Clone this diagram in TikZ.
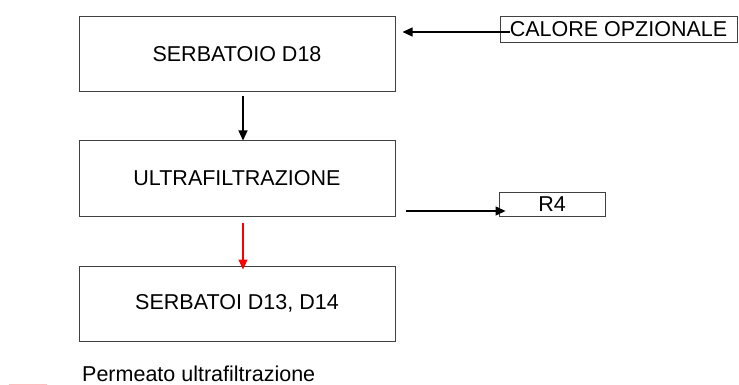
\documentclass[tikz,border=0pt]{standalone}
\usepackage{fontspec}
\setmainfont{Liberation Sans}
\usetikzlibrary{arrows.meta}

\begin{document}
\begin{tikzpicture}[
        x=1pt, y=-1pt,
        font=\fontsize{21.5}{25}\selectfont,
        unit/.style={draw=black!75, line width=1pt, minimum width=316pt, minimum height=75pt, inner sep=0pt},
        tag/.style={draw=black!75, line width=0.9pt, inner sep=0pt},
        flow/.style={-{Triangle[length=10pt,width=9pt]}, line width=1.2pt, black},
        permeate/.style={-{Triangle[length=10pt,width=9pt]}, line width=1.2pt, red}
    ]
        \useasboundingbox (0,0) rectangle (739,385);

        % Process units
        \node[unit] (d18) at (237, 54) {SERBATOIO D18};
        \node[unit] (uf) at (237, 178.5) {ULTRAFILTRAZIONE};
        \node[unit] (d13) at (237, 303.5) {SERBATOI D13, D14};

        % Side inputs and outputs
        \node[tag, minimum width=237pt, minimum height=26pt] (heat) at (618.5, 29) {CALORE OPZIONALE};
        \node[tag, minimum width=106pt, minimum height=24pt] (r4) at (552, 204) {R4};

        % Flows
        \draw[flow] ([xshift=10pt,yshift=-3pt]heat.west) -- ([xshift=7pt,yshift=22pt]d18.east);
        \draw[flow] ([xshift=6pt,yshift=-4pt]d18.south) -- ([xshift=6pt]uf.north);
        \draw[flow] ([xshift=10pt,yshift=-32.5pt]uf.east) -- ([xshift=7pt,yshift=-7pt]r4.west);
        \draw[permeate] ([xshift=6pt,yshift=-6pt]uf.south) -- ([xshift=6pt,yshift=-4pt]d13.north);

        % Legend
        \draw[red!25, line width=2pt] (9, 384.5) -- (47, 384.5);
        \node[anchor=base west, inner sep=0pt] (legend) at (82, 381.5) {Permeato ultrafiltrazione};
    \end{tikzpicture}
\end{document}
